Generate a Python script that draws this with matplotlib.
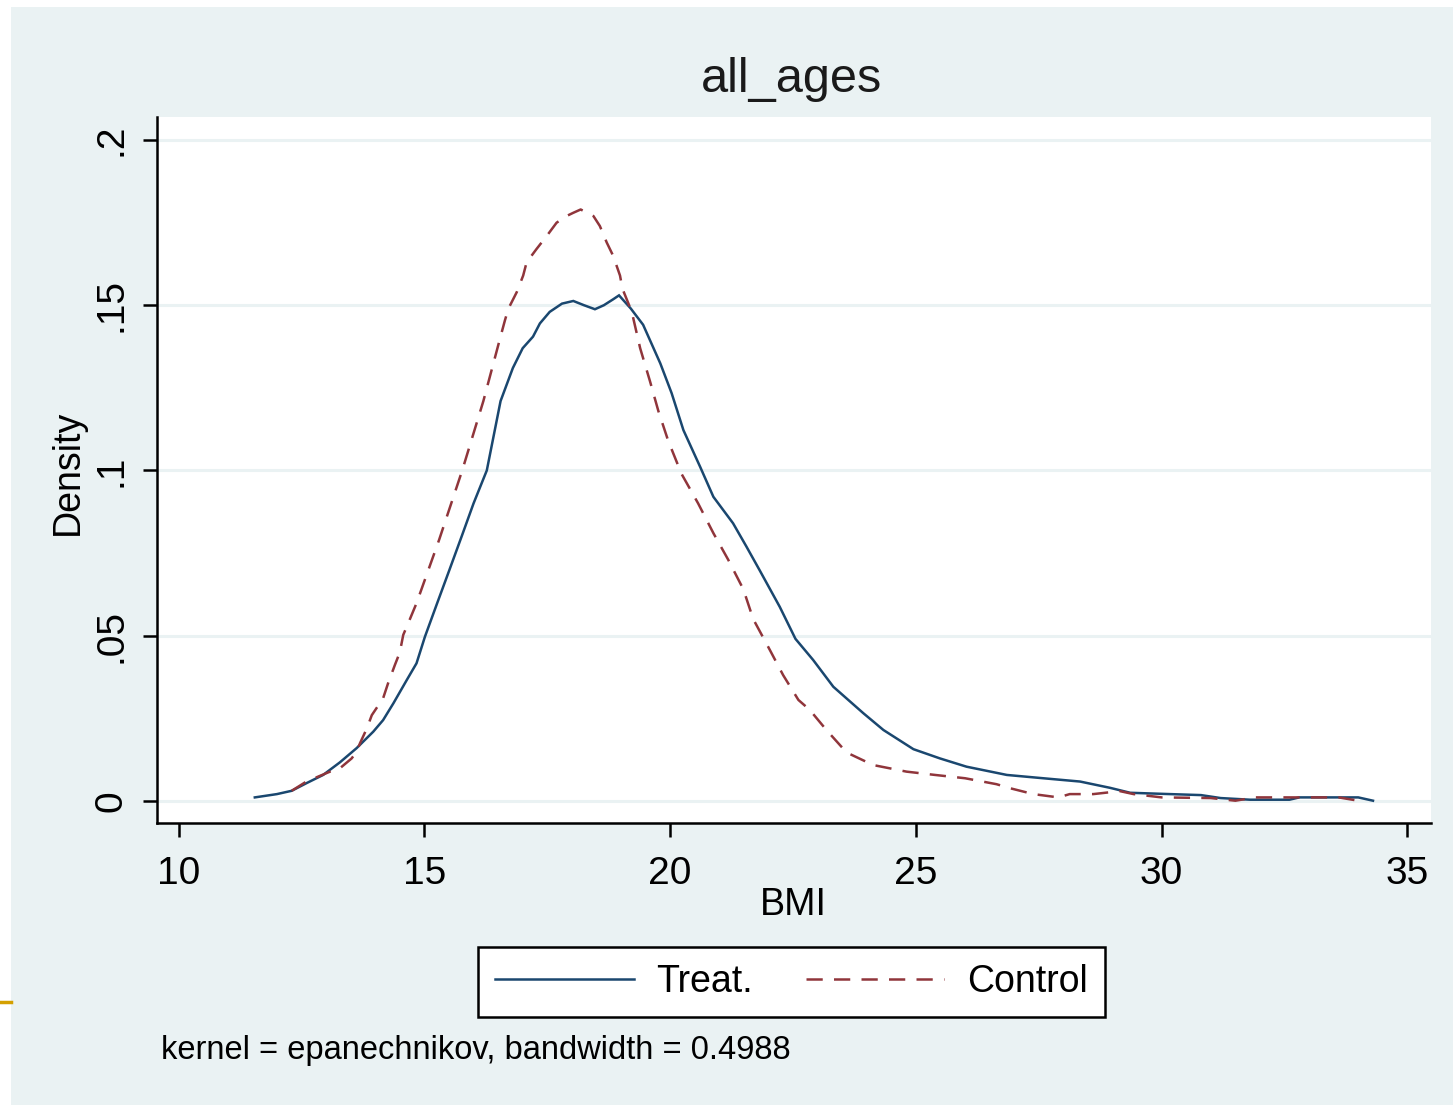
import matplotlib
matplotlib.use("Agg")
import matplotlib.pyplot as plt
from matplotlib.patches import Rectangle
from matplotlib.lines import Line2D

# ---- data ----
treat_bmi = [11.55, 12.0, 12.3, 12.6, 12.94, 13.28, 13.62, 13.96, 14.16, 14.37, 14.64,
             14.84, 15.01, 15.26, 15.5, 15.77, 16.0, 16.27, 16.55, 16.8, 17.0, 17.21,
             17.35, 17.55, 17.8, 18.03, 18.25, 18.47, 18.65, 18.84, 18.96, 19.2, 19.45,
             19.8, 20.03, 20.27, 20.61, 20.88, 21.28, 21.55, 21.82, 22.23, 22.55, 22.91,
             23.32, 23.93, 24.34, 24.95, 25.49, 26.03, 26.85, 27.59, 28.34, 28.95, 29.36,
             30.17, 30.8, 31.2, 31.8, 32.6, 32.8, 33.5, 34.0, 34.3]
treat_density = [0.001, 0.002, 0.003, 0.0053, 0.0078, 0.0116, 0.0159, 0.0209, 0.0244,
                 0.0295, 0.0365, 0.0416, 0.0496, 0.0598, 0.0695, 0.0805, 0.090, 0.100,
                 0.121, 0.131, 0.137, 0.1405, 0.1445, 0.148, 0.1505, 0.1513, 0.150,
                 0.1488, 0.150, 0.1518, 0.153, 0.149, 0.1441, 0.1324, 0.1234, 0.1122,
                 0.1011, 0.092, 0.084, 0.077, 0.0698, 0.0587, 0.049, 0.0426, 0.0345,
                 0.0265, 0.0214, 0.0156, 0.0128, 0.0103, 0.0078, 0.0068, 0.0058, 0.0039,
                 0.0024, 0.002, 0.0017, 0.0008, 0.0003, 0.0003, 0.001, 0.001, 0.001, 0.0]

control_bmi = [12.3, 12.6, 13.08, 13.28, 13.52, 13.62, 13.69, 13.83, 13.93, 14.16, 14.26,
               14.40, 14.50, 14.57, 14.67, 14.84, 15.3, 15.77, 16.2, 16.54, 16.64, 16.71,
               16.88, 17.01, 17.08, 17.28, 17.49, 17.69, 17.89, 18.03, 18.18, 18.44, 18.57,
               18.71, 18.84, 18.98, 19.03, 19.22, 19.39, 19.59, 19.76, 19.96, 20.23, 20.57,
               20.88, 21.18, 21.49, 21.69, 22.03, 22.3, 22.61, 22.84, 23.18, 23.59, 24.13,
               24.81, 25.39, 26.0, 26.64, 26.91, 27.39, 27.9, 28.13, 28.61, 29.15, 29.43,
               30.0, 31.0, 31.5, 31.9, 32.3, 33.0, 33.6, 34.0]
control_density = [0.003, 0.0058, 0.0088, 0.0098, 0.0128, 0.0148, 0.0174, 0.0219, 0.0259,
                   0.031, 0.0355, 0.0411, 0.0449, 0.0502, 0.0537, 0.0598, 0.079, 0.100,
                   0.121, 0.140, 0.1455, 0.149, 0.154, 0.159, 0.163, 0.167, 0.171, 0.175,
                   0.177, 0.178, 0.179, 0.177, 0.174, 0.169, 0.165, 0.159, 0.155, 0.148,
                   0.137, 0.127, 0.118, 0.109, 0.099, 0.090, 0.081, 0.073, 0.064, 0.055,
                   0.0456, 0.038, 0.0305, 0.0275, 0.0214, 0.0146, 0.0108, 0.0088, 0.0078,
                   0.0068, 0.005, 0.0038, 0.002, 0.001, 0.002, 0.002, 0.0029, 0.002, 0.001,
                   0.0008, 0.0, 0.001, 0.001, 0.001, 0.001, 0.0]

x_ticks = [10, 15, 20, 25, 30, 35]
x_ticklabels = ["10", "15", "20", "25", "30", "35"]
y_ticks = [0, 0.05, 0.1, 0.15, 0.2]
y_ticklabels = ["0", ".05", ".1", ".15", ".2"]

title = "all_ages"
x_label = "BMI"
y_label = "Density"
series_names = ["Treat.", "Control"]
note = "kernel = epanechnikov, bandwidth = 0.4988"

# ---- style ----
W, H = 1453, 1108
BG = "#EAF2F3"
BLUE = "#1a476f"
RED = "#90353b"
plt.rcParams["font.family"] = ["Liberation Sans", "DejaVu Sans"]

fig = plt.figure(figsize=(W / 100, H / 100), dpi=100)
fig.patch.set_facecolor("white")
fig.patches.append(Rectangle((11 / W, 1 - 1105 / H), 1 - 11 / W, (1105 - 7) / H,
                             transform=fig.transFigure, facecolor=BG, edgecolor="none",
                             zorder=-10))
fig.lines.append(Line2D([0, 11 / W], [1 - 1002 / H, 1 - 1002 / H], transform=fig.transFigure,
                        color="#D4A000", linewidth=2.5))

ax = fig.add_axes([157 / W, 1 - 823 / H, (1431 - 157) / W, (823 - 117) / H])
ax.set_facecolor("white")
ax.set_xlim(9.56, 35.48)
ax.set_ylim(-0.00675, 0.207)

ax.plot(treat_bmi, treat_density, color=BLUE, linewidth=1.8, label=series_names[0],
        solid_joinstyle="miter", zorder=3)
ax.plot(control_bmi, control_density, color=RED, linewidth=1.8, label=series_names[1],
        dashes=(6.5, 4.5), zorder=3)

ax.set_xticks(x_ticks)
ax.set_xticklabels(x_ticklabels)
ax.set_yticks(y_ticks)
ax.set_yticklabels(y_ticklabels, rotation=90, va="center")
ax.yaxis.grid(True, color=BG, linewidth=2.2, zorder=0)
ax.set_axisbelow(True)

for s in ["top", "right"]:
    ax.spines[s].set_visible(False)
for s in ["left", "bottom"]:
    ax.spines[s].set_linewidth(1.8)
    ax.spines[s].set_color("black")
ax.tick_params(axis="both", length=10, width=1.8, color="black", labelsize=28,
               labelcolor="black")
ax.tick_params(axis="x", pad=14)
ax.tick_params(axis="y", pad=10)

fig.text(792 / W, 1 - 80 / H, title, ha="center", va="center", fontsize=35, color="#1a1a1a")
fig.text(793 / W, 1 - 905 / H, x_label, ha="center", va="center", fontsize=27, color="black")
fig.text(68 / W, 1 - 472 / H, y_label, ha="center", va="center", fontsize=27, rotation=90,
         color="black")
fig.text(161 / W, 1 - 1050 / H, note, ha="left", va="center", fontsize=23.5, color="black")

leg = fig.legend(loc="center", bbox_to_anchor=(791.5 / W, 1 - 982 / H), ncol=2,
                 fontsize=27, frameon=True, fancybox=False, framealpha=1,
                 handlelength=3.7, handletextpad=0.6, columnspacing=1.4,
                 borderpad=0.45, borderaxespad=0)
leg.get_frame().set_edgecolor("black")
leg.get_frame().set_linewidth(1.8)
leg.get_frame().set_facecolor("white")

fig.savefig("out.png", dpi=100, facecolor=fig.get_facecolor())
